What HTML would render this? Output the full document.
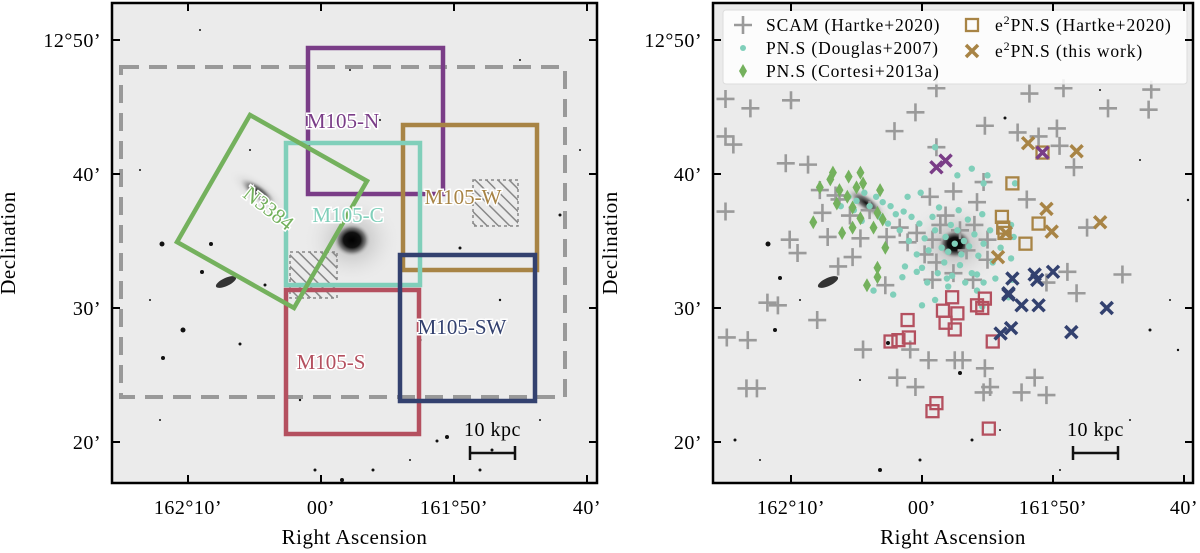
<!DOCTYPE html>
<html><head><meta charset="utf-8"><style>
html,body{margin:0;padding:0;background:#fff;}
svg{display:block;}
text{font-family:"Liberation Serif",serif;}
</style></head><body>
<svg id="fig" width="1200" height="553" viewBox="0 0 1200 553" xmlns="http://www.w3.org/2000/svg">
<defs>
<radialGradient id="gM105"><stop offset="0" stop-color="#000"/><stop offset="0.45" stop-color="#111"/><stop offset="0.7" stop-color="#555" stop-opacity="0.7"/><stop offset="1" stop-color="#ddd" stop-opacity="0"/></radialGradient>
<radialGradient id="gN3384"><stop offset="0" stop-color="#111"/><stop offset="0.5" stop-color="#555" stop-opacity="0.7"/><stop offset="1" stop-color="#ddd" stop-opacity="0"/></radialGradient>
<radialGradient id="gHalo"><stop offset="0" stop-color="#999" stop-opacity="0.8"/><stop offset="1" stop-color="#e8e8e8" stop-opacity="0"/></radialGradient>
<pattern id="hatch" width="8" height="8" patternUnits="userSpaceOnUse" patternTransform="rotate(-45)"><line x1="0" y1="0" x2="0" y2="8" stroke="#888" stroke-width="3"/></pattern>
</defs>
<g id="left"></g>
<g id="right"></g>
</svg>
<script>
// Right-panel catalogue data: RA offset (arcmin west of 162°10') and Dec offset (arcmin above 12°20')
const scamRA=[-5.0,-3.1,0,9.5,11.1,7.9,14.8,18.2,20.8,24.2,27.3,27.5,17.3,20.3,18.9,20.5,21.6,-5.0,-4.4,-0.4,1.3,11.1,14.7,18.0,22.6,25.3,-5.0,2.4,2.8,5.3,-0.1,0.5,4.7,3.6,7.2,21.1,21.8,10.6,12.4,14.2,9.6,10.8,8.9,11.1,13.4,12.4,15.0,15.0,8.3,7.3,10.8,13.9,3.7,-1.8,-1.0,-4.9,-3.3,2.0,5.5,9.1,10.5,12.5,13.1,8.1,9.5,14.8,15.2,14.7,17.6,18.6,19.5,-3.4,-2.6,19.5,3.4,4.5,6.0,2.2,11.4,12.9,14.0,10.2,11.8];
const scamDec=[25.6,24.9,25.5,24.6,26.4,23.2,23.6,26.0,26.4,24.9,24.8,26.3,23.1,23.4,22.8,22.1,20.5,22.8,22.2,20.8,20.7,22.0,19.4,18.1,16.0,12.5,17.2,17.1,15.3,15.2,15.1,14.1,13.8,13.1,11.7,12.7,11.1,18.3,18.7,17.9,15.6,15.1,14.9,13.4,14.3,12.6,15.1,13.6,16.0,15.3,12.1,12.1,18.1,10.4,10.2,7.8,7.6,9.1,6.9,6.9,6.1,6.1,6.1,4.8,4.1,5.5,4.1,3.7,3.7,4.8,3.5,4.0,4.0,11.9,18.4,16.9,17.3,18.8,16.2,15.8,16.2,14.0,16.9];
const dougRA=[12.5,11.8,13.2,12.0,13.0,12.7,11.5,13.6,12.2,11.0,14.0,12.9,11.7,10.5,14.3,13.5,10.8,12.3,14.7,10.2,11.2,13.8,15.2,9.6,12.8,11.3,14.6,9.8,15.4,10.0,12.0,13.3,16.0,9.0,14.2,9.2,8.6,8.0,7.6,7.0,6.5,6.0,5.6,5.0,4.4,4.8,6.8,7.4,8.3,3.8,5.4,8.9,9.9,11.0,12.7,13.8,15.0,14.7,17.1,9.6,10.4,11.9,14.2,14.7,8.7,16.9,8.5,7.8,6.3,11.0,15.6,16.8,16.6,14.6,10.0,17.0,16.8];
const dougDec=[14.8,15.3,15.0,14.2,14.0,15.8,14.5,14.6,16.2,15.8,15.5,13.2,13.4,14.3,13.9,16.6,16.8,12.4,14.8,15.2,12.6,12.6,15.8,14.0,17.3,17.5,17.0,16.3,13.4,13.0,11.6,11.9,14.5,15.0,11.3,16.8,17.2,17.0,17.6,17.9,18.3,17.6,18.6,18.0,18.3,17.3,16.8,16.3,15.8,17.6,16.5,18.3,18.6,22.0,19.9,20.4,19.9,19.3,19.3,12.7,11.9,12.2,12.5,11.9,13.1,12.1,12.3,11.0,11.3,10.6,12.2,16.2,10.8,10.1,10.2,15.3,13.7];
const cortRA=[3.2,5.3,4.4,2.2,3.7,4.3,5.0,3.5,4.7,6.8,6.6,7.0,6.3,5.3,1.7,3.9,4.7,7.2,6.6,6.6,5.8,5.5,3.0];
const cortDec=[20.1,20.1,19.8,19.0,18.8,18.3,19.0,17.8,17.5,18.8,17.1,16.6,16.0,16.7,16.4,15.6,16.0,14.5,13.0,12.3,11.7,19.3,19.6];
const sqRA=[12.3,11.6,12.7,11.8,12.5,8.9,9.0,8.2,7.6,14.2,14.6,14.8,15.4,11.1,10.8,15.1,16.9,16.1,16.2,16.3,18.9,17.9,19.2];
const sqDec=[10.8,9.8,9.6,8.9,8.4,9.1,7.8,7.6,7.5,10.2,10.0,10.7,7.5,2.9,2.3,1.0,19.3,16.8,16.0,15.6,16.3,14.8,21.6];
const sqField=["S","S","S","S","S","S","S","S","S","S","S","S","S","S","S","S","W","W","W","W","W","W","W"];
const xRA=[16.9,18.6,18.8,20.0,16.6,17.6,18.9,24.1,16.0,16.8,21.4,16.6,18.1,21.8,19.5,19.9,23.6,16.4,15.8,19.2,11.8,11.1];
const xDec=[12.2,12.5,12.1,12.7,11.0,10.2,10.2,10.0,8.1,8.5,8.2,11.1,22.3,21.7,17.4,15.7,16.4,15.6,13.8,21.6,21.0,20.5];
const xField=["SW","SW","SW","SW","SW","SW","SW","SW","SW","SW","SW","SW","W","W","W","W","W","W","W","N","N","N"];
const xTickLabels=["162°10’","00’","161°50’","40’"];
const yTickLabels=["20’","30’","40’","12°50’"];
const yTickVals=[0,10,20,30];
const xTickVals=[0,10,20,30];

const COL={N:"#7a3d87",W:"#a88445",C:"#80cfba",S:"#b4505f",SW:"#33416f",G:"#74b15d",gray:"#9a9a9a"};
const NS="http://www.w3.org/2000/svg";
function mk(tag,attrs,parent){const e=document.createElementNS(NS,tag);for(const k in attrs)e.setAttribute(k,attrs[k]);parent.appendChild(e);return e;}

function panel(g,L,R,T,B,x0,sx){
  const bg=mk('rect',{x:L,y:T,width:R-L,height:B-T,fill:'#ebebeb'},g);
  
  
  return {X:v=>x0+v*sx, Y:v=>442-v*13.4};
}
function stars(g,list){list.forEach(s=>{const c=mk('circle',{cx:s[0],cy:s[1],r:s[2],fill:'#111'},g);});}
function frame(g,L,R,T,B,ax,leftLabel){
  const fr=mk('rect',{x:L,y:T,width:R-L,height:B-T,fill:'none',stroke:'#000','stroke-width':2.5},g);
  
  
  xTickVals.forEach((v,i)=>{const x=ax.X(v);
    mk('line',{x1:x,y1:B,x2:x,y2:B-8,stroke:'#000','stroke-width':2},g);
    mk('line',{x1:x,y1:T,x2:x,y2:T+8,stroke:'#000','stroke-width':2},g);
    const t=mk('text',{x:x,y:B+31,'font-size':20,'text-anchor':'middle','letter-spacing':'0.5'},g);t.textContent=xTickLabels[i];
    
    
  });
  yTickVals.forEach((v,i)=>{const y=ax.Y(v);
    mk('line',{x1:L,y1:y,x2:L+8,y2:y,stroke:'#000','stroke-width':2},g);
    mk('line',{x1:R,y1:y,x2:R-8,y2:y,stroke:'#000','stroke-width':2},g);
    const t=mk('text',{x:L-11,y:y+7,'font-size':20,'text-anchor':'end','letter-spacing':'0.5'},g);t.textContent=yTickLabels[i];
    
    
  });
  const xt=mk('text',{x:(L+R)/2,y:544,'font-size':21,'text-anchor':'middle','letter-spacing':'0.5'},g);xt.textContent='Right Ascension';
  
  
  const yt=mk('text',{x:leftLabel,y:(T+B)/2,'font-size':21,'text-anchor':'middle','letter-spacing':'0.5',transform:`rotate(-90 ${leftLabel} ${(T+B)/2})`},g);yt.textContent='Declination';
  
  
}
function scalebar(g,x1,x2){
  const sb=mk('g',{},g);
  
  
  mk('line',{x1:x1,y1:453,x2:x2,y2:453,stroke:'#111','stroke-width':2.5},sb);
  mk('line',{x1:x1,y1:446,x2:x1,y2:460,stroke:'#111','stroke-width':2.5},sb);
  mk('line',{x1:x2,y1:446,x2:x2,y2:460,stroke:'#111','stroke-width':2.5},sb);
  const t=mk('text',{x:(x1+x2)/2,y:436,'font-size':20,'text-anchor':'middle','letter-spacing':'0.5'},sb);t.textContent='10 kpc';
}
const starL=[[162,244,2.5],[211,244,2],[202,272,2],[183,330,2.5],[163,358,2],[240,344,1.5],[420,340,1.5],[447,437,2],[437,441,1.5],[342,480,2],[373,470,1.5],[560,215,1.5],[492,450,1.5],[480,470,1.5],[200,30,1],[350,70,1],[520,60,1],[580,150,1],[140,170,1],[250,150,1],[300,400,1.2],[160,420,1],[540,420,1],[500,300,1.2],[460,248,1.5],[380,120,1],[315,470,1.5],[410,460,1],[265,285,1.5],[150,300,1]];
const starR=[[768,244,2.5],[775,330,2],[780,278,2],[735,440,1.5],[888,343,2],[960,373,2],[972,440,1.5],[920,460,1.5],[880,470,2],[1150,330,1.5],[1178,350,1.2],[1005,118,1.5],[1170,300,1],[1100,90,1],[800,300,1],[1130,420,1],[1000,430,1],[760,460,1],[1060,470,1],[1188,200,1.2],[1140,160,1],[860,380,1]];

// LEFT PANEL
const gl=document.getElementById('left');
const axL=panel(gl,112,597,3,483,188,13.3);
mk('ellipse',{cx:352,cy:240,rx:48,ry:44,fill:'url(#gHalo)'},gl);
const m105=mk('ellipse',{cx:352,cy:240,rx:19,ry:17,fill:'url(#gM105)'},gl);


mk('ellipse',{cx:258,cy:192,rx:34,ry:13,fill:'url(#gHalo)',transform:'rotate(35 258 192)'},gl);
const n3384=mk('ellipse',{cx:258,cy:192,rx:22,ry:8,fill:'url(#gN3384)',transform:'rotate(35 258 192)'},gl);


mk('ellipse',{cx:226,cy:282,rx:11,ry:4,fill:'#333',transform:'rotate(-25 226 282)'},gl);
stars(gl,starL);
const hat=[[473,180,45,46],[290,252,47,46]];
hat.forEach(h=>{const r=mk('rect',{x:h[0],y:h[1],width:h[2],height:h[3],fill:'url(#hatch)',stroke:'#888','stroke-width':1.5,'stroke-dasharray':'3 3'},gl);});
const dash=mk('rect',{x:121,y:67,width:444,height:330,fill:'none',stroke:'#999','stroke-width':4,'stroke-dasharray':'18 10'},gl);


const fields=[["M105-N",308,48,135,146,COL.N],["M105-W",403,125,134,145,COL.W],["M105-C",286,143,134,142,COL.C],["M105-S",286,290,133,144,COL.S],["M105-SW",400,255,135,146,COL.SW]];
fields.forEach(f=>{const r=mk('rect',{x:f[1],y:f[2],width:f[3],height:f[4],fill:'none',stroke:f[5],'stroke-width':4.5},gl);
  
  });
const gp=mk('polygon',{points:'250,115 367,181 294,308 177,242',fill:'none',stroke:COL.G,'stroke-width':4.5},gl);


const labs=[["M105-N",343,128,COL.N,0],["M105-W",463,204,COL.W,0],["M105-C",348,222,COL.C,0],["M105-SW",462,334,COL.SW,0],["M105-S",331,369,COL.S,0],["N3384",268,215,COL.G,38]];
labs.forEach(l=>{const t=mk('text',{x:l[1],y:l[2],'font-size':21,'text-anchor':'middle',fill:l[3],stroke:'#fff','stroke-width':3,'paint-order':'stroke',transform:`rotate(${l[4]} ${l[1]} ${l[2]-6})`},gl);t.textContent=l[0];
  
  });
scalebar(gl,470,515);
frame(gl,112,597,3,483,axL,15);

// RIGHT PANEL
const gr=document.getElementById('right');
const axR=panel(gr,713,1193,3,483,791,13.1);
mk('ellipse',{cx:955,cy:244,rx:50,ry:45,fill:'url(#gHalo)'},gr);
mk('ellipse',{cx:955,cy:244,rx:17,ry:15,fill:'url(#gM105)'},gr);
mk('ellipse',{cx:866,cy:203,rx:34,ry:13,fill:'url(#gHalo)',transform:'rotate(35 866 203)'},gr);
mk('ellipse',{cx:866,cy:203,rx:22,ry:8,fill:'url(#gN3384)',transform:'rotate(35 866 203)'},gr);
mk('ellipse',{cx:828,cy:282,rx:11,ry:4,fill:'#333',transform:'rotate(-25 828 282)'},gr);
stars(gr,starR);
function plus(g,x,y,c){return mk('path',{d:`M${x-9} ${y}H${x+9}M${x} ${y-9}V${y+9}`,stroke:c,'stroke-width':2.6,fill:'none'},g);}
function cross(g,x,y,c){return mk('path',{d:`M${x-6} ${y-6}L${x+6} ${y+6}M${x-6} ${y+6}L${x+6} ${y-6}`,stroke:c,'stroke-width':3.5,fill:'none'},g);}
scamRA.forEach((v,i)=>{const p=plus(gr,axR.X(v),axR.Y(scamDec[i]),COL.gray);
  
  });
dougRA.forEach((v,i)=>{const c=mk('circle',{cx:axR.X(v),cy:axR.Y(dougDec[i]),r:3.2,fill:COL.C},gr);
  
  });
cortRA.forEach((v,i)=>{const x=axR.X(v),y=axR.Y(cortDec[i]);const d=mk('polygon',{points:`${x},${y-7} ${x+4},${y} ${x},${y+7} ${x-4},${y}`,fill:COL.G},gr);
  
  });
sqRA.forEach((v,i)=>{const x=axR.X(v),y=axR.Y(sqDec[i]);const r=mk('rect',{x:x-6,y:y-6,width:12,height:12,fill:'none',stroke:COL[sqField[i]],'stroke-width':2.3},gr);
  
  });
xRA.forEach((v,i)=>{const p=cross(gr,axR.X(v),axR.Y(xDec[i]),COL[xField[i]]);
  
  });
// legend
const lg=mk('g',{},gr);


mk('rect',{x:723,y:10,width:464,height:74,rx:3,fill:'#fff','fill-opacity':0.85,stroke:'#ddd'},lg);
const entries=[[743,25,'plus','SCAM (Hartke+2020)'],[743,48,'dot','PN.S (Douglas+2007)'],[743,71,'dia','PN.S (Cortesi+2013a)'],[972,25,'sq','PN.S (Hartke+2020)'],[972,51,'x','PN.S (this work)']];
entries.forEach(e=>{const [x,y,k,s]=e;
  if(k=='plus')plus(lg,x,y,COL.gray);
  if(k=='dot')mk('circle',{cx:x,cy:y,r:3,fill:COL.C},lg);
  if(k=='dia')mk('polygon',{points:`${x},${y-7} ${x+4},${y} ${x},${y+7} ${x-4},${y}`,fill:COL.G},lg);
  if(k=='sq')mk('rect',{x:x-6,y:y-6,width:12,height:12,fill:'none',stroke:COL.W,'stroke-width':2.3},lg);
  if(k=='x')cross(lg,x,y,COL.W);
  const t=mk('text',{x:x+23,y:y+6,'font-size':17.5,'letter-spacing':'0.9'},lg);
  if(k=='sq'||k=='x'){t.innerHTML='e<tspan dy="-7" font-size="12">2</tspan><tspan dy="7">'+s+'</tspan>';}
  else t.textContent=s;
  
  
});
scalebar(gr,1073,1118);
frame(gr,713,1193,3,483,axR,617);
</script>
</body></html>
